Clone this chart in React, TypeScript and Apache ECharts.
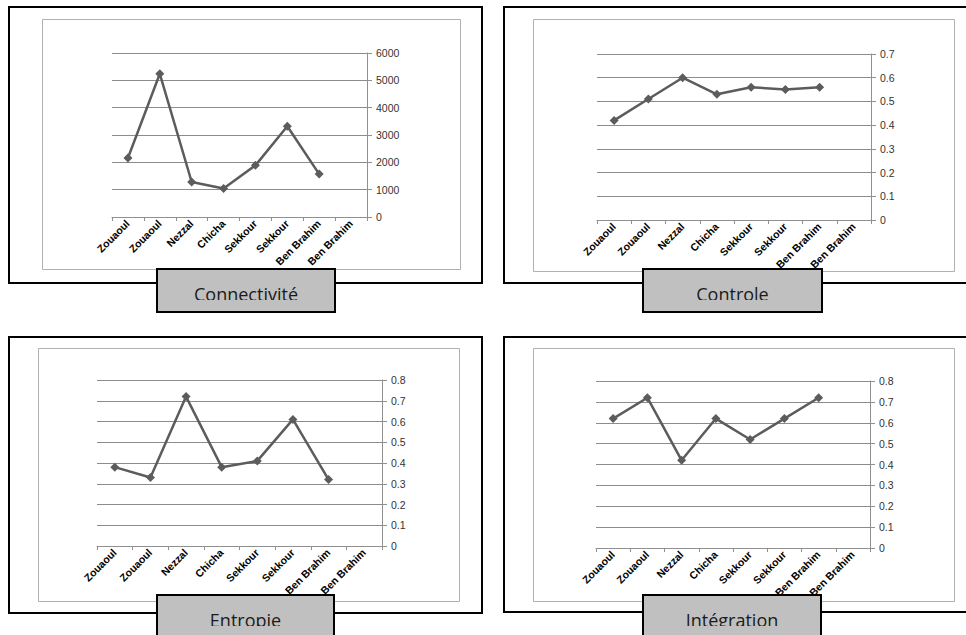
import React, { useEffect, useRef } from "react";
import * as echarts from "echarts";

const categories = ["Zouaoul", "Zouaoul", "Nezzal", "Chicha", "Sekkour", "Sekkour", "Ben Brahim", "Ben Brahim"];
const connectivite = [2160, 5240, 1280, 1040, 1890, 3320, 1570, null];
const controle = [0.42, 0.51, 0.6, 0.53, 0.56, 0.55, 0.56, null];
const entropie = [0.38, 0.33, 0.72, 0.38, 0.41, 0.61, 0.32, null];
const integration = [0.62, 0.72, 0.42, 0.62, 0.52, 0.62, 0.72, null];
const titles = ["Connectivité", "Controle", "Entropie", "Intégration"];
const yMax = [6000, 0.7, 0.8, 0.8];
const yStep = [1000, 0.1, 0.1, 0.1];

const grids = [
  { left: 112, top: 53, width: 255, height: 164 },
  { left: 597, top: 54, width: 274, height: 166 },
  { left: 97, top: 380, width: 285, height: 166 },
  { left: 596, top: 381, width: 274, height: 167 },
];
const innerBoxes = [
  [42, 19, 418, 250],
  [533, 19, 421, 252],
  [38, 348, 421, 253],
  [533, 348, 421, 253],
];
const outerBoxes = [
  [9, 7, 473, 276],
  [504, 7, 480, 276],
  [9, 337, 473, 276],
  [504, 337, 480, 275],
];
const titleBoxes = [
  [157, 269, 178, 43],
  [643, 269, 179, 43],
  [157, 595, 177, 50],
  [643, 595, 178, 50],
];

export default function App() {
  const ref = useRef<HTMLDivElement>(null);
  useEffect(() => {
    if (!ref.current) return;
    const chart = echarts.init(ref.current, null, { renderer: "svg" });
    const data = [connectivite, controle, entropie, integration];
    const lineColor = "#5c5c5c";
    const graphics: any[] = [];
    outerBoxes.forEach((b) => {
      graphics.push({
        type: "rect",
        z: 0,
        shape: { x: b[0], y: b[1], width: b[2], height: b[3] },
        style: { fill: "#ffffff", stroke: "#000000", lineWidth: 2 },
        silent: true,
      });
    });
    innerBoxes.forEach((b) => {
      graphics.push({
        type: "rect",
        z: 1,
        shape: { x: b[0] + 0.5, y: b[1] + 0.5, width: b[2], height: b[3] },
        style: { fill: "none", stroke: "#b0b0b0", lineWidth: 1 },
        silent: true,
      });
    });
    titleBoxes.forEach((b, i) => {
      graphics.push({
        type: "rect",
        z: 100,
        shape: { x: b[0], y: b[1], width: b[2], height: b[3] },
        style: { fill: "#c0c0c0", stroke: "#000000", lineWidth: 2 },
        silent: true,
      });
      graphics.push({
        type: "text",
        z: 101,
        x: b[0] + b[2] / 2,
        y: b[1] + 16,
        style: {
          text: titles[i],
          fill: "#1a1a1a",
          font: "18px 'Open Sans', 'Noto Sans', sans-serif",
          textAlign: "center",
          textVerticalAlign: "top",
        },
        silent: true,
      });
      graphics.push({
        type: "rect",
        z: 102,
        shape: { x: b[0] + 1, y: b[1] + 31, width: b[2] - 2, height: b[3] - 32 },
        style: { fill: "#c0c0c0" },
        silent: true,
      });
    });

    const option: any = {
      animation: false,
      backgroundColor: "#ffffff",
      grid: grids.map((g) => ({ ...g, containLabel: false })),
      xAxis: grids.map((_, i) => ({
        type: "category",
        gridIndex: i,
        data: categories,
        boundaryGap: true,
        axisLine: { show: true, lineStyle: { color: "#909090", width: 1 } },
        axisTick: { show: true, length: 4, lineStyle: { color: "#909090" } },
        axisLabel: {
          rotate: 45,
          interval: 0,
          margin: 5,
          fontSize: 10.5,
          fontWeight: "bold",
          fontFamily: "'Liberation Sans', Arial, sans-serif",
          color: "#000000",
        },
        splitLine: { show: false },
        z: 3,
      })),
      yAxis: grids.map((_, i) => ({
        type: "value",
        gridIndex: i,
        position: "right",
        min: 0,
        max: yMax[i],
        interval: yStep[i],
        axisLine: { show: true, lineStyle: { color: "#909090", width: 1 } },
        axisTick: { show: true, length: 5, inside: false, lineStyle: { color: "#909090" } },
        axisLabel: {
          margin: 9,
          fontSize: 10.5,
          fontFamily: "'Liberation Sans', Arial, sans-serif",
          color: "#333333",
          formatter: (v: number) => String(Math.round(v * 10) / 10),
        },
        splitLine: { show: true, lineStyle: { color: "#8c8c8c", width: 1 } },
      })),
      series: data.map((d, i) => ({
        type: "line",
        xAxisIndex: i,
        yAxisIndex: i,
        data: d,
        symbol: "diamond",
        symbolSize: 9,
        showAllSymbol: true,
        connectNulls: false,
        lineStyle: { color: lineColor, width: 2.5 },
        itemStyle: { color: lineColor },
        z: 5,
      })),
      graphic: graphics,
    };
    chart.setOption(option);
    return () => chart.dispose();
  }, []);
  return (
    <div
      ref={ref}
      style={{ position: "fixed", left: 0, top: 0, width: 966, height: 635, background: "#fff" }}
    />
  );
}
